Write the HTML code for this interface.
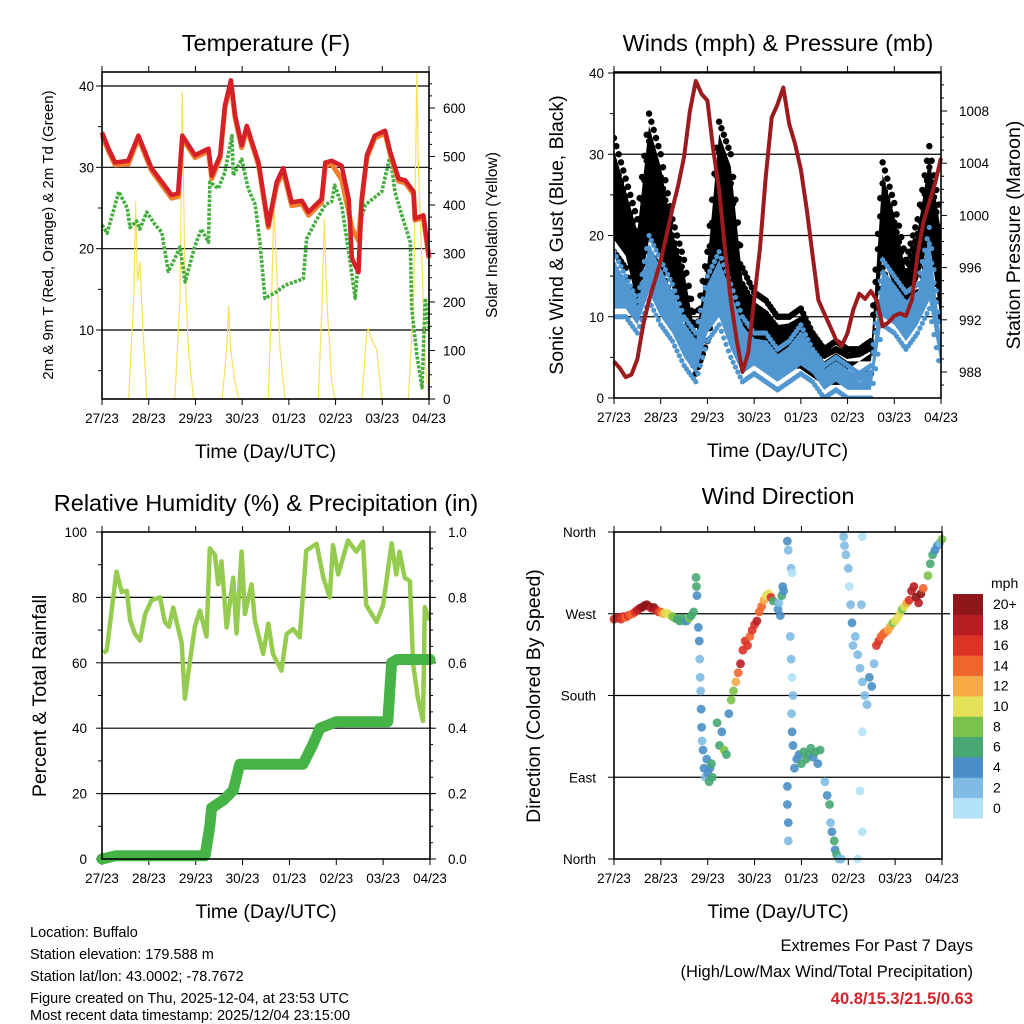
<!DOCTYPE html>
<html><head><meta charset="utf-8">
<style>
html,body{margin:0;padding:0;background:#fff;}
svg{display:block;font-family:"Liberation Sans",Arial,sans-serif;}
</style></head>
<body>
<svg id="chart" width="1024" height="1024" viewBox="0 0 1024 1024" xmlns="http://www.w3.org/2000/svg">
<rect width="1024" height="1024" fill="#fff"/>
<g id="p1"></g>
<g id="p2"></g>
<g id="p3"></g>
<g id="p4"></g>
<g id="footer" font-size="14.5" fill="#000">
  <text x="30" y="937">Location: Buffalo</text>
  <text x="30" y="959">Station elevation: 179.588 m</text>
  <text x="30" y="981">Station lat/lon: 43.0002; -78.7672</text>
  <text x="30" y="1003">Figure created on Thu, 2025-12-04, at 23:53 UTC</text>
  <text x="30" y="1025" dy="-5">Most recent data timestamp: 2025/12/04 23:15:00</text>
  <text x="973" y="951" text-anchor="end" font-size="16.5">Extremes For Past 7 Days</text>
  <text x="973" y="977" text-anchor="end" font-size="16.5">(High/Low/Max Wind/Total Precipitation)</text>
  <text x="973" y="1004" text-anchor="end" font-size="16.5" font-weight="bold" fill="#d1232a">40.8/15.3/21.5/0.63</text>
</g>
</svg>
<script>
// ---------- data ----------
const dayLabels = ["27/23","28/23","29/23","30/23","01/23","02/23","03/23","04/23"];
// Temperature (F)
const tempT = [0,0.14,0.28,0.56,0.78,1.06,1.49,1.63,1.72,1.99,2.28,2.35,2.53,2.63,2.76,2.85,2.99,3.1,3.35,3.56,3.74,3.88,4.06,4.28,4.42,4.7,4.78,4.92,5.13,5.28,5.35,5.49,5.56,5.67,5.84,6.06,6.17,6.35,6.49,6.67,6.7,6.88,7.0];
const tempRed = [34.3,32.3,30.6,30.8,33.9,29.9,26.6,26.8,33.9,31.5,32.3,29,31.5,37.6,40.7,36.4,32.7,35.1,30.6,22.9,28.2,29.9,25.7,25.9,24.5,26.1,30.6,30.8,30.2,26.1,18.8,17.1,26.1,31.5,33.9,34.5,31.9,28.6,28.4,27,23.7,24.1,19];
const tempOrange = [34,32,30.3,30.4,33.6,29.6,26.2,26.4,33.6,31.2,32,28.6,31.2,37.3,40.4,36.1,32.4,34.8,30.3,22.6,27.8,29.5,25.3,25.5,24.1,25.7,30.2,30.4,28.5,24.5,22.5,21,25.8,31.2,33.6,34.2,31.6,28.3,28.1,26.7,23.5,23.8,18.8];
const tdT = [0,0.11,0.36,0.54,0.6,0.74,0.81,0.96,1.13,1.28,1.42,1.56,1.67,1.78,1.99,2.13,2.28,2.31,2.49,2.63,2.78,2.81,2.99,3.13,3.28,3.38,3.49,3.74,3.92,4.31,4.38,4.56,4.78,4.92,4.98,5.13,5.28,5.42,5.56,5.64,5.99,6.17,6.27,6.42,6.6,6.63,6.74,6.85,6.92,7.0];
const tdV = [22.9,21.9,27,25,22.6,23.4,22.4,24.5,23,22,17.2,18.8,20.2,15.9,20.4,22.4,20.8,28.2,27.4,29.4,33.9,29,31,27.4,25.4,20.8,13.9,14.7,15.5,16.3,21.2,23.2,25.4,25.8,27.8,25.4,19.6,13.9,23.9,25.4,27,31.5,27,24.1,20.8,12.7,6.9,2.9,13.9,10];
const solarT = [0,0.57,0.68,0.72,0.76,0.81,0.88,0.96,1.56,1.67,1.72,1.77,1.85,1.96,2.57,2.67,2.71,2.75,2.85,2.93,3.56,3.63,3.68,3.74,3.81,3.92,4.63,4.7,4.76,4.81,4.92,4.99,5.56,5.67,5.7,5.79,5.88,5.99,6.56,6.67,6.74,6.77,6.85,6.92,7.0];
const solarV = [0,0,208,407,242,283,138,0,0,208,634,276,103,0,0,103,192,103,34,0,0,208,400,262,103,0,0,172,372,208,34,0,0,138,144,117,103,0,0,208,675,482,276,69,0];
// Winds (mph) & pressure (mb)
const presT = [0,0.125,0.25,0.375,0.5,0.625,0.75,0.875,1,1.125,1.25,1.375,1.5,1.625,1.75,1.875,2,2.125,2.25,2.375,2.5,2.625,2.75,2.875,3,3.125,3.25,3.375,3.5,3.625,3.75,3.875,4,4.125,4.25,4.375,4.5,4.625,4.75,4.875,5,5.125,5.25,5.375,5.5,5.625,5.75,5.875,6,6.125,6.25,6.375,6.5,6.625,6.75,6.875,7];
const presV = [988.8,988.3,987.6,987.8,989,991.6,993.5,995,996.5,998.5,1000.5,1002.3,1004.5,1008,1010.3,1009.3,1008.8,1005,1002,997.5,993.5,990.5,988,989.5,993.5,997.5,1003,1007.5,1008.5,1009.8,1007,1005.5,1003.5,1000.5,997,993.5,992.5,991.5,990.5,990,991,992.8,994,993.6,994.2,993.5,991.5,991.8,992.3,992.5,992.3,993.5,997,999.5,1001,1002.5,1004.4];
const windT = [0,0.25,0.5,0.75,1,1.25,1.5,1.75,2,2.25,2.5,2.75,3,3.25,3.5,3.75,4,4.25,4.5,4.75,5,5.25,5.5,5.75,6,6.25,6.5,6.75,7];
const windLo = [10,10,8,12,9,7,4,2,7,9,5,2,3,2,1,2,3,2,0,1,0,0,0,9,8,6,8,11,3];
const windHi = [18,15,12,20,17,14,10,8,15,18,14,10,8,8,6,7,9,6,4,5,4,3,4,17,15,13,14,21,8];
const gustLo = [18,16,10,18,16,12,8,3,7,15,12,6,5,4,3,4,4,3,2,2,2,3,3,16,12,10,13,18,8];
const gustHi = [32,27,22,35,30,22,17,9,18,34,30,16,13,12,10,10,11,8,6,7,6,6,7,29,24,17,22,31,22];
// RH & precip
const rhT = [0.03,0.1,0.31,0.42,0.53,0.6,0.7,0.81,0.92,1.06,1.24,1.34,1.43,1.52,1.7,1.77,1.88,1.98,2.09,2.23,2.3,2.41,2.48,2.55,2.66,2.8,2.87,2.98,3.05,3.19,3.26,3.44,3.55,3.65,3.83,3.94,4.08,4.22,4.36,4.58,4.72,4.86,4.93,5.04,5.25,5.43,5.57,5.64,5.86,6,6.18,6.28,6.35,6.46,6.57,6.64,6.74,6.85,6.89,6.99];
const rhV = [63,63.8,87.9,81.7,82,73,69,66.8,74.9,79.2,80,72.5,71,76.9,66,49,60.9,71,76,68,95,93,84,91,70.8,86,69,94,74.9,84,73,62.7,72,62.7,57.6,68.8,70.3,67.8,94.3,96.4,86.2,80,96,87,97.4,94,97,77.6,72.5,77.6,96.5,87,94,86,85,59.6,49.4,42.2,77,73];
const precipT = [0,0.3,2.2,2.3,2.34,2.59,2.8,2.94,4.29,4.5,4.65,5.0,6.1,6.18,6.3,7.0];
const precipV = [0,0.01,0.01,0.1,0.156,0.18,0.21,0.29,0.29,0.35,0.4,0.42,0.42,0.6,0.61,0.61];
// Wind direction (t, deg, mph)
const dirT = [0,0.05,0.1,0.15,0.2,0.25,0.3,0.35,0.4,0.45,0.5,0.55,0.6,0.65,0.7,0.75,0.8,0.85,0.9,0.95,1,1.05,1.1,1.15,1.2,1.25,1.3,1.35,1.4,1.45,1.5,1.55,1.6,1.65,1.7,
1.75,1.76,1.77,1.8,1.82,1.83,1.84,1.85,1.86,1.87,1.88,1.9,1.92,1.95,1.98,2,2.03,2.05,2.08,2.1,
2.2,2.25,2.3,2.35,2.4,2.45,2.5,2.55,2.6,2.65,2.7,2.75,2.8,2.85,2.9,2.95,3,3.05,3.1,3.15,3.2,3.25,3.3,3.35,3.4,
3.5,3.52,3.55,3.58,3.6,3.62,3.7,3.72,3.78,3.8,3.76,3.78,3.8,3.82,3.79,3.8,3.82,3.7,3.7,3.72,3.72,
3.85,3.9,3.95,4,4.05,4.1,4.15,4.2,4.25,4.3,4.35,4.4,4.5,4.55,4.6,4.62,4.65,4.7,4.72,4.75,4.8,4.85,
4.9,4.92,4.95,5,5.02,5.05,5.08,5.1,5.15,5.2,5.25,5.3,5.35,5.4,5.45,5.5,5.55,5.3,5.28,5.3,5.25,5.3,5.2,
5.6,5.65,5.7,5.75,5.8,5.85,5.9,5.95,6,6.05,6.1,6.15,6.2,6.25,6.3,6.35,6.4,6.45,6.5,6.55,6.6,6.7,6.75,6.8,6.85,6.9,6.95,7];
const dirV = [264,265,266,264,267,266,268,269,270,272,274,276,277,279,280,278,276,277,274,272,272,270,271,270,268,267,265,264,262,265,262,262,265,268,272,
310,300,290,255,240,220,200,185,165,145,130,120,100,90,110,95,85,100,105,90,
150,125,140,120,115,160,175,185,195,205,215,230,240,235,245,252,258,262,272,278,285,290,292,288,284,
275,282,268,290,300,295,350,340,320,315,245,220,200,180,160,140,125,80,60,40,20,
100,110,115,105,118,110,115,122,112,118,105,120,85,70,60,40,30,20,10,5,0,0,
355,345,335,320,300,280,260,235,245,225,210,195,180,170,200,190,215,355,280,140,75,30,0,
235,240,245,248,250,252,256,260,262,265,270,275,278,282,285,295,300,288,282,292,298,312,325,335,340,345,348,352];
const dirS = [17,16,18,17,16,15,16,14,15,17,18,19,20,21,20,21,19,20,18,16,14,13,11,10,10,9,8,7,7,6,7,5,8,7,6,
6,6,5,4,4,3,3,3,4,4,3,4,4,3,4,5,7,4,7,6,
6,7,5,8,7,4,8,9,12,14,18,17,17,16,15,17,16,18,15,14,13,11,10,16,6,
4,3,4,6,5,4,4,2,2,1,2,2,1,2,2,4,4,4,4,4,2,
4,4,5,6,7,6,7,6,5,7,4,6,3,4,6,2,5,6,4,6,3,2,
2,3,2,2,1,2,4,2,3,2,2,3,2,2,4,4,3,1,2,1,1,1,1,
16,17,15,14,15,13,12,9,11,10,10,9,11,12,16,18,19,20,18,20,15,9,7,6,5,4,3,8];
const speedBinLabels = ["0","2","4","6","8","10","12","14","16","18","20+"];
const speedColors = ["#b3e2f8","#7fbbe3","#4a8fc7","#48a773","#7bc24d","#e5e05a","#f6a944","#ef652c","#dc3327","#b81d23","#8e1619"];

// ---------- helpers ----------
const NS="http://www.w3.org/2000/svg";
function mk(parent,tag,attrs,text){const e=document.createElementNS(NS,tag);for(const k in attrs)e.setAttribute(k,attrs[k]);if(text!==undefined)e.textContent=text;parent.appendChild(e);return e;}
function lin(d0,d1,r0,r1){return v=>r0+(v-d0)*(r1-r0)/(d1-d0);}
function ptsStr(xs,ys,fx,fy){return xs.map((t,i)=>fx(t).toFixed(1)+","+fy(ys[i]).toFixed(1)).join(" ");}

function frame(g,L,R,T,B){
  const x=lin(0,7,L,R);
  dayLabels.forEach((lab,i)=>{
    const px=x(i);
    mk(g,"line",{x1:px,x2:px,y1:B,y2:B+6,stroke:"#000","stroke-width":1});
    mk(g,"line",{x1:px,x2:px,y1:T,y2:T-6,stroke:"#000","stroke-width":1});
    const tl=mk(g,"text",{x:px,y:B+24,"text-anchor":"middle","font-size":"13.5"},lab);
    
    
  });
  const xt=mk(g,"text",{x:(L+R)/2,y:B+59,"text-anchor":"middle","font-size":"19.5"},"Time (Day/UTC)");
  
  
  return x;
}
function border(g,L,R,T,B){
  const r=mk(g,"rect",{x:L,y:T,width:R-L,height:B-T,fill:"none",stroke:"#000","stroke-width":1.6});
  
  
}
function grid(g,L,R,py){
  const l=mk(g,"line",{x1:L,x2:R,y1:py,y2:py,stroke:"#000","stroke-width":1.2});
  
  
}
function ylab(g,px,py,txt,anchor){
  const t=mk(g,"text",{x:px,y:py+5,"text-anchor":anchor,"font-size":"13.5"},txt);
  
  
}
function title(g,cx,cy,txt){
  const t=mk(g,"text",{x:cx,y:cy,"text-anchor":"middle","font-size":"23.5"},txt);
  
  
}
function vtitle(g,cx,cy,txt,size){
  const t=mk(g,"text",{x:0,y:0,"text-anchor":"middle","font-size":size,transform:`translate(${cx},${cy}) rotate(-90)`},txt);
  
  
}
function tick(g,x1,y,len){mk(g,"line",{x1:x1,x2:x1+len,y1:y,y2:y,stroke:"#000","stroke-width":1});}

// ---------- Panel 1: temperature ----------
(function(){
  const g=document.getElementById("p1");
  const L=102,R=429,T=72,B=399;
  const x=frame(g,L,R,T,B);
  const yT=lin(10,40,330,86);
  const yS=lin(0,600,399,108);
  title(g,266,51,"Temperature (F)");
  vtitle(g,53,235,"2m & 9m T (Red, Orange) & 2m Td (Green)","15");
  vtitle(g,497,235,"Solar Insolation (Yellow)","15.5");
  [10,20,30,40].forEach(v=>{grid(g,L,R,yT(v));ylab(g,L-8,yT(v),String(v),"end");tick(g,L,yT(v),-6);});
  for(let v=5;v<42;v+=5){if(v%10)tick(g,L,yT(v),-4);}
  [0,100,200,300,400,500,600].forEach(v=>{ylab(g,R+14,yS(v),String(v),"start");tick(g,R,yS(v),6);});
  for(let v=25;v<670;v+=25){if(v%100)tick(g,R,yS(v),3);}
  const cp=mk(g,"clipPath",{id:"c1"});mk(cp,"rect",{x:L,y:T,width:R-L,height:B-T});
  const solar=mk(g,"polyline",{points:ptsStr(solarT,solarV,x,yS),fill:"none",stroke:"#f9e05a","stroke-width":1.2,"clip-path":"url(#c1)"});
  
  
  const td=mk(g,"polyline",{points:ptsStr(tdT,tdV,x,yT),fill:"none",stroke:"#44ad3e","stroke-width":3.6,"stroke-dasharray":"3 1.5","stroke-linejoin":"round"});
  
  
  const to=mk(g,"polyline",{points:ptsStr(tempT,tempOrange,x,yT),fill:"none",stroke:"#f27f2e","stroke-width":5,"stroke-linejoin":"round"});
  
  
  const tr=mk(g,"polyline",{points:ptsStr(tempT,tempRed,x,yT),fill:"none",stroke:"#d42026","stroke-width":4.5,"stroke-linejoin":"round"});
  
  
  border(g,L,R,T,B);
})();

// ---------- Panel 2: winds & pressure ----------
(function(){
  const g=document.getElementById("p2");
  const L=614,R=941,T=72,B=398;
  const x=frame(g,L,R,T,B);
  const yW=lin(0,40,398,73);
  const yP=lin(988,1008,372,111);
  title(g,778,51,"Winds (mph) & Pressure (mb)");
  vtitle(g,563,235,"Sonic Wind & Gust (Blue, Black)","19.5");
  vtitle(g,1020,235,"Station Pressure (Maroon)","19.5");
  [10,20,30,40].forEach(v=>grid(g,L,R,yW(v)));
  [0,10,20,30,40].forEach(v=>{ylab(g,L-10,yW(v),String(v),"end");tick(g,L,yW(v),-6);});
  for(let v=5;v<40;v+=5){if(v%10)tick(g,L,yW(v),-4);}
  [988,992,996,1000,1004,1008].forEach(v=>{ylab(g,R+18,yP(v),String(v),"start");tick(g,R,yP(v),6);});
  for(let v=987;v<1011;v+=1){if(v%4)tick(g,R,yP(v),3);}
  const cp=mk(g,"clipPath",{id:"c2"});mk(cp,"rect",{x:L,y:T,width:R-L,height:B-T});
  const layer=mk(g,"g",{"clip-path":"url(#c2)"});
  function band(lo,hi,color,name,dotR,inset){
    const pts=windT.map((t,i)=>x(t).toFixed(1)+","+yW(hi[i]-inset).toFixed(1)).concat(windT.slice().reverse().map((t,j)=>{const i=windT.length-1-j;return x(t).toFixed(1)+","+yW(lo[i]+inset).toFixed(1);})).join(" ");
    const p=mk(layer,"polygon",{points:pts,fill:color,stroke:"none"});
    
    
    // scattered edge points, interpolated between samples
    for(let i=0;i<windT.length-1;i++){
      for(let f=0;f<1;f+=0.2){
        const t=windT[i]+f*(windT[i+1]-windT[i]);
        const h=hi[i]+f*(hi[i+1]-hi[i]), l=lo[i]+f*(lo[i+1]-lo[i]);
        [h,l,(h*0.8+l*0.2)].forEach(v=>{
          const c=mk(layer,"circle",{cx:x(t),cy:yW(v),r:dotR,fill:color});
          
          
        });
      }
    }
  }
  band(gustLo,gustHi,"#000","gust",3.2,1.5);
  band(windLo,windHi,"#5096d0","sustained-wind",2.6,1);
  const pr=mk(g,"polyline",{points:ptsStr(presT,presV,x,yP),fill:"none",stroke:"#9b1b1e","stroke-width":4,"stroke-linejoin":"round"});
  
  
  border(g,L,R,T,B);
})();

// ---------- Panel 3: RH & precip ----------
(function(){
  const g=document.getElementById("p3");
  const L=102,R=430,T=532,B=859;
  const x=frame(g,L,R,T,B);
  const yR=lin(0,100,859,532);
  const yQ=lin(0,1,859,532);
  title(g,266,511,"Relative Humidity (%) & Precipitation (in)");
  vtitle(g,46,696,"Percent & Total Rainfall","19.5");
  [20,40,60,80].forEach(v=>grid(g,L,R,yR(v)));
  [0,20,40,60,80,100].forEach(v=>{ylab(g,L-15,yR(v),String(v),"end");tick(g,L,yR(v),-6);});
  for(let v=10;v<100;v+=20)tick(g,L,yR(v),-4);
  [0,0.2,0.4,0.6,0.8,1.0].forEach(v=>{ylab(g,R+18,yQ(v),v.toFixed(1),"start");tick(g,R,yQ(v),6);});
  for(let v=0.05;v<1;v+=0.05)tick(g,R,yQ(v),3);
  const rh=mk(g,"polyline",{points:ptsStr(rhT,rhV,x,yR),fill:"none",stroke:"#95cc50","stroke-width":4.5,"stroke-linejoin":"round"});
  
  
  const pc=mk(g,"polyline",{points:ptsStr(precipT,precipV,x,yQ),fill:"none",stroke:"#46b347","stroke-width":11,"stroke-linejoin":"round","stroke-linecap":"round"});
  
  
  border(g,L,R,T,B);
})();

// ---------- Panel 4: wind direction ----------
(function(){
  const g=document.getElementById("p4");
  const L=614,R=942,T=532,B=859;
  const x=frame(g,L,R,T,B);
  const yD=lin(0,360,859,532);
  title(g,778,504,"Wind Direction");
  vtitle(g,540,696,"Direction (Colored By Speed)","19.5");
  [90,180,270].forEach(v=>grid(g,L,R+8,yD(v)));
  const names=["North","East","South","West","North"];
  [0,90,180,270,360].forEach((v,i)=>{ylab(g,L-18,yD(v),names[i],"end");tick(g,L,yD(v),-6);});
  dirT.forEach((t,i)=>{
    const bin=Math.min(10,Math.floor(dirS[i]/2));
    const c=mk(g,"circle",{cx:x(t),cy:yD(dirV[i]),r:4.4,fill:speedColors[bin],"fill-opacity":0.9});
    
    
  });
  border(g,L,R,T,B);
  const cb=mk(g,"g",{});
  
  
  const cT=594,cB=818,cL=953,cW=30,h=(cB-cT)/11;
  const u=mk(cb,"text",{x:cL+38,y:cT-6,"text-anchor":"start","font-size":"14"},"mph");
  
  
  speedColors.forEach((col,k)=>{
    const yy=cB-(k+1)*h;
    const r=mk(cb,"rect",{x:cL,y:yy,width:cW,height:h+0.5,fill:col});
    
    
    const t=mk(cb,"text",{x:cL+40,y:yy+h/2+5,"font-size":"14"},speedBinLabels[k]);
    
    
  });
})();
</script>
</body></html>
